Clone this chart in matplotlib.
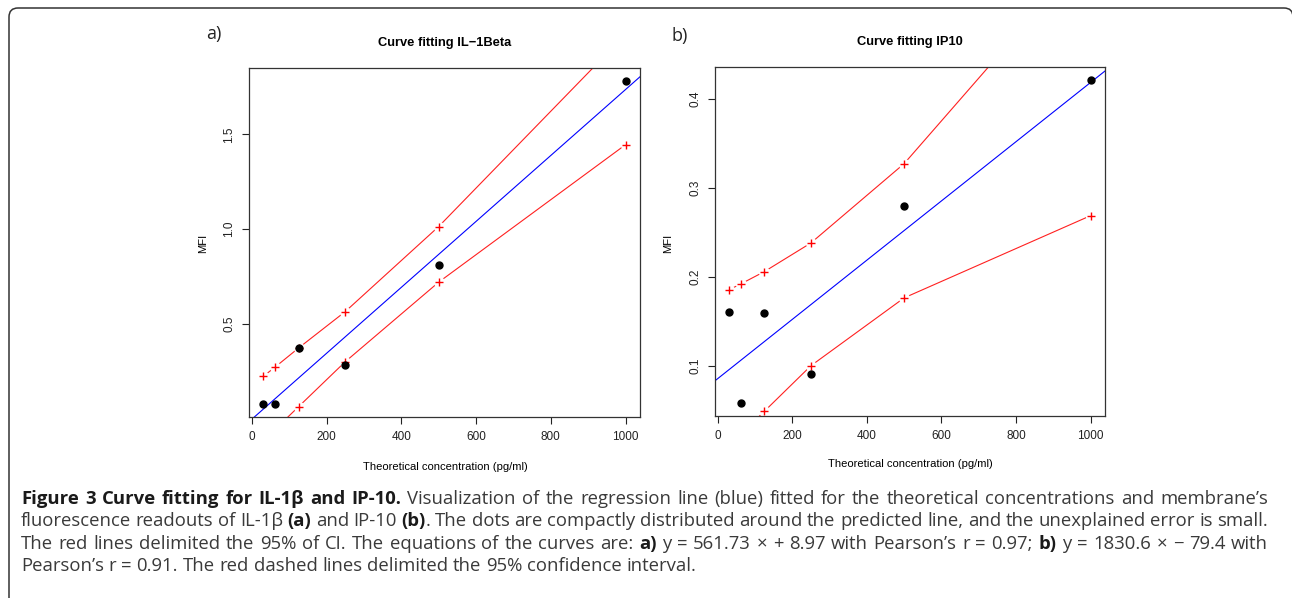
import numpy as np
import matplotlib
matplotlib.use("Agg")
import matplotlib.pyplot as plt
from matplotlib.patches import FancyBboxPatch
from matplotlib.transforms import IdentityTransform

# data
conc = [31.25, 62.5, 125, 250, 500, 1000]

il1_mfi = [0.080, 0.079, 0.374, 0.287, 0.812, 1.781]
il1_upper = [0.226, 0.274, 0.374, 0.566, 1.014, 2.026]
il1_lower = [-0.113, -0.054, 0.065, 0.302, 0.721, 1.445]

ip10_mfi = [0.160, 0.058, 0.159, 0.091, 0.279, 0.421]
ip10_upper = [0.1855, 0.192, 0.2057, 0.2379, 0.327, 0.567]
ip10_lower = [0.0104, 0.0232, 0.0488, 0.100, 0.1762, 0.2685]

W, H = 1292, 598
plt.rcParams['font.family'] = ['Liberation Sans', 'DejaVu Sans']

fig = plt.figure(figsize=(W / 100, H / 100), dpi=100)


def fx(x):
    return x / W


def fy(y):
    return 1 - y / H


def panel(rect, x, y, up, lo, title, yticks):
    ax = fig.add_axes(rect)
    x = np.array(x)
    y = np.array(y)
    rx = x.max() - x.min()
    ry = y.max() - y.min()
    ax.set_xlim(x.min() - 0.04 * rx, x.max() + 0.04 * rx)
    ax.set_ylim(y.min() - 0.04 * ry, y.max() + 0.04 * ry)

    # regression line
    b, a = np.polyfit(x, y, 1)
    xx = np.array(ax.get_xlim())
    ax.plot(xx, a + b * xx, color='#0000ff', lw=0.8, zorder=2.3)

    # CI lines, R type="b" look: white gaps around the crosses
    for ci in (up, lo):
        ax.plot(x, ci, color='#ff2020', lw=0.8, zorder=2)
        ax.plot(x, ci, ls='none', marker='o', ms=8, mfc='white', mec='none', zorder=2.1)
        ax.plot(x, ci, ls='none', marker='+', ms=6, mew=1.0, color='#ff0000', zorder=2.2)

    ax.plot(x, y, ls='none', marker='o', ms=5, color='black', zorder=3)

    ax.set_xticks([0, 200, 400, 600, 800, 1000])
    ax.set_yticks(yticks)
    ax.tick_params(length=5, width=0.8, labelsize=8.5, pad=5, colors='#222222')
    for lab in ax.get_yticklabels():
        lab.set_rotation(90)
        lab.set_va('center')
    for s in ax.spines.values():
        s.set_linewidth(0.9)
        s.set_color('#333333')
        s.set_zorder(4)
    ax.set_title(title, fontsize=9.3, fontweight='bold', pad=16)
    return ax


ax1 = panel([fx(249), fy(417), fx(640) - fx(249), fy(68) - fy(417)],
            conc, il1_mfi, il1_upper, il1_lower,
            'Curve fitting IL\u22121Beta', [0.5, 1.0, 1.5])
ax1.set_yticklabels(['0.5', '1.0', '1.5'])
ax2 = panel([fx(715), fy(416), fx(1105) - fx(715), fy(67) - fy(416)],
            conc, ip10_mfi, ip10_upper, ip10_lower,
            'Curve fitting IP10', [0.1, 0.2, 0.3, 0.4])

fig.text(fx(445), fy(467), 'Theoretical concentration (pg/ml)', fontsize=8.1, ha='center', va='center')
fig.text(fx(910), fy(464), 'Theoretical concentration (pg/ml)', fontsize=8.1, ha='center', va='center')
fig.text(fx(203), fy(243), 'MFI', fontsize=8.1, rotation=90, ha='center', va='center')
fig.text(fx(668), fy(243), 'MFI', fontsize=8.1, rotation=90, ha='center', va='center')

fig.text(fx(214), fy(34), 'a)', fontsize=13, family='Open Sans', ha='center', va='center', color='#222222')
fig.text(fx(680), fy(36), 'b)', fontsize=13, family='Open Sans', ha='center', va='center', color='#222222')

# caption
cap_font = ['Open Sans', 'DejaVu Sans']
caption = [
    [("Figure 3 Curve fitting for IL-1\u03b2 and IP-10.", True),
     (" Visualization of the regression line (blue) fitted for the theoretical concentrations and membrane\u2019s", False)],
    [("fluorescence readouts of IL-1\u03b2", False), (" (a)", True), (" and IP-10", False), (" (b)", True),
     (". The dots are compactly distributed around the predicted line, and the unexplained error is small.", False)],
    [("The red lines delimited the 95% of CI. The equations of the curves are:", False), (" a)", True),
     (" y = 561.73 \u00d7 + 8.97 with Pearson\u2019s r = 0.97;", False), (" b)", True),
     (" y = 1830.6 \u00d7 \u2212 79.4 with", False)],
    [("Pearson\u2019s r = 0.91. The red dashed lines delimited the 95% confidence interval.", False)],
]
cap_y = [499, 521, 544, 566]
cap_left, cap_right = 21, 1268

renderer = fig.canvas.get_renderer()


def measure(s, bold, size):
    t = fig.text(0, 0, s, fontsize=size, family=cap_font, fontweight='bold' if bold else 'normal')
    w = t.get_window_extent(renderer).width
    t.remove()
    return w


def tokens(segs):
    # (word, bold, space before it)
    out = []
    for s, bold in segs:
        gap = s.startswith(' ')
        for i, wd in enumerate(s.split()):
            out.append((wd, bold, gap if i == 0 else True))
    if out:
        out[0] = (out[0][0], out[0][1], False)
    return out


def natural_width(toks, size):
    sp = measure('x x', False, size) - measure('xx', False, size)
    return sum(measure(wd, b, size) for wd, b, g in toks) + sp * sum(1 for t in toks if t[2])


cap_size = 12 * (1262 - cap_left) / natural_width(tokens(caption[1]), 12)
sp_nat = measure('x x', False, cap_size) - measure('xx', False, cap_size)

for k, (segs, yy) in enumerate(zip(caption, cap_y)):
    toks = tokens(segs)
    widths = [measure(wd, b, cap_size) for wd, b, g in toks]
    ngap = sum(1 for t in toks if t[2])
    if k < 3:
        sp = (cap_right - cap_left - sum(widths)) / ngap
    else:
        sp = sp_nat
    x = cap_left
    for (wd, bold, gap), w in zip(toks, widths):
        if gap:
            x += sp
        fig.text(fx(x), fy(yy), wd, fontsize=cap_size, family=cap_font,
                 fontweight='bold' if bold else 'normal', ha='left', va='center',
                 color='#1a1a1a' if bold else '#3a3a3a')
        x += w

# rounded frame around the whole figure
frame = FancyBboxPatch((9, -12), 1284, H - 8 + 12, boxstyle='round,pad=0,rounding_size=9',
                       transform=IdentityTransform(), fill=False, lw=1.1, ec='#333333')
fig.patches.append(frame)

fig.savefig('out.png', dpi=100)
